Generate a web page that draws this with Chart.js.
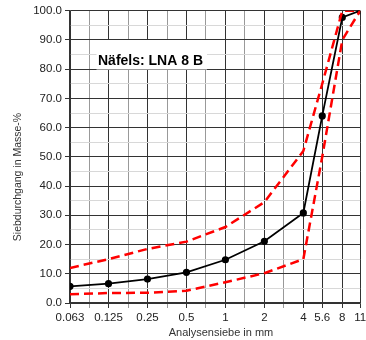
<!DOCTYPE html>
<html><head><meta charset="utf-8">
<script src="https://cdn.jsdelivr.net/npm/chart.js@4/dist/chart.umd.min.js"></script>
<style>html,body{margin:0;padding:0;background:#fff}#w{width:366px;height:340px;position:relative}</style>
</head><body><div id="w"><canvas id="c"></canvas></div>
<script>
// Data
const sieves = [0.063, 0.125, 0.25, 0.5, 1, 2, 4, 5.6, 8, 11];
const passing = [5.7, 6.6, 8.2, 10.5, 14.8, 21.1, 30.8, 64.0, 97.7, 100];
const upperLimit = [12, 15, 18.5, 21, 26, 34.5, 52, 75, 100, 100];
const lowerLimit = [3, 3.4, 3.5, 4.2, 7.1, 10.2, 15, 50, 90, 100];
const gridSieves = [0.063, 0.089, 0.125, 0.177, 0.25, 0.354, 0.5, 0.707, 1, 1.41, 2, 2.83, 4, 5.6, 8, 11];
const labeledSieves = [0.063, 0.125, 0.25, 0.5, 1, 2, 4, 5.6, 8, 11];
const yTicks = [0, 5, 10, 15, 20, 25, 30, 35, 40, 45, 50, 55, 60, 65, 70, 75, 80, 85, 90, 95, 100];
const chartTitle = 'Näfels: LNA 8 B';
const xTitle = 'Analysensiebe in mm';
const yTitle = 'Siebdurchgang in Masse-%';

const pts = arr => sieves.map((s, i) => ({x: s, y: arr[i]}));
const FONT = "'Liberation Sans', Arial, sans-serif";

const extras = {
  id: 'extras',
  beforeDatasetsDraw(chart) {
    const ctx = chart.ctx;
    ctx.save();
    ctx.fillStyle = '#fff';
    ctx.fillRect(96.5, 40, 110.5, 29.5);
    ctx.fillStyle = '#000';
    ctx.font = 'bold 14px ' + FONT;
    ctx.textAlign = 'center';
    ctx.textBaseline = 'middle';
    ctx.fillText(chartTitle, 150.5, 61);
    ctx.restore();
  },
  afterDraw(chart) {
    const ctx = chart.ctx;
    ctx.save();
    ctx.fillStyle = '#333';
    ctx.font = '11px ' + FONT;
    ctx.textAlign = 'center';
    ctx.textBaseline = 'middle';
    ctx.fillText(xTitle, 221, 333);
    ctx.translate(18.5, 177);
    ctx.rotate(-Math.PI / 2);
    ctx.font = '10.5px ' + FONT;
    ctx.fillText(yTitle, 0, 0);
    ctx.restore();
  }
};

new Chart(document.getElementById('c'), {
  type: 'line',
  data: {
    datasets: [
      {data: pts(upperLimit), borderColor: '#ff0000', borderWidth: 2.5, borderDash: [9, 5], pointRadius: 0, tension: 0, fill: false},
      {data: pts(lowerLimit), borderColor: '#ff0000', borderWidth: 2.5, borderDash: [9, 5], pointRadius: 0, tension: 0, fill: false},
      {data: pts(passing), borderColor: '#000', borderWidth: 1.8, pointRadius: 2.7, pointBackgroundColor: '#000', pointBorderColor: '#000', tension: 0, fill: false}
    ]
  },
  options: {
    responsive: true,
    maintainAspectRatio: false,
    animation: false,
    events: [],
    layout: {padding: {left: 0, right: 5, top: 10.7, bottom: 0}},
    plugins: {legend: {display: false}, tooltip: {enabled: false}},
    scales: {
      x: {
        type: 'logarithmic',
        min: 0.063,
        max: 11,
        afterBuildTicks: s => { s.ticks = gridSieves.map(v => ({value: v})); },
        afterFit: s => { s.height = 37; s.paddingRight = 0; s.paddingLeft = 0; },
        ticks: {
          autoSkip: false, maxRotation: 0, minRotation: 0, padding: 3,
          color: '#222', font: {family: FONT, size: 11.5},
          callback: v => labeledSieves.includes(v) ? String(v) : ''
        },
        grid: {
          color: c => (c.tick && labeledSieves.includes(c.tick.value)) ? '#333' : '#999',
          tickColor: c => (c.tick && labeledSieves.includes(c.tick.value)) ? '#333' : '#999',
          tickLength: 5, lineWidth: 1
        },
        border: {display: true, color: '#333', width: 1.5}
      },
      y: {
        type: 'linear',
        min: 0,
        max: 100,
        afterBuildTicks: s => { s.ticks = yTicks.map(v => ({value: v})); },
        afterFit: s => { s.width = 70; },
        ticks: {
          autoSkip: false, padding: 3,
          color: '#222', font: {family: FONT, size: 11.5},
          callback: v => (v % 10 === 0) ? v.toFixed(1) : ''
        },
        grid: {
          color: c => (c.tick && c.tick.value % 10 === 0) ? '#333' : '#d8d8d8',
          tickColor: c => (c.tick && c.tick.value % 10 === 0) ? '#333' : 'rgba(0,0,0,0)',
          tickLength: 5, lineWidth: 1
        },
        border: {display: true, color: '#333', width: 1.5}
      }
    }
  },
  plugins: [extras]
});
</script>
</body></html>
